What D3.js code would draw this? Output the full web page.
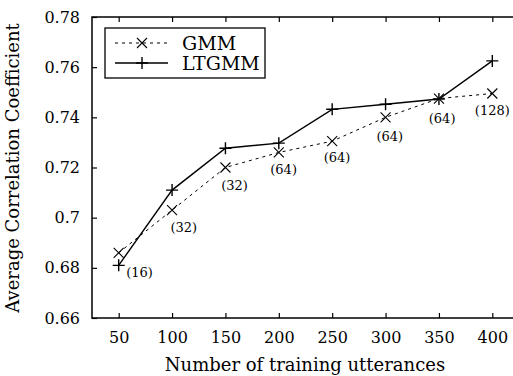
<!DOCTYPE html>
<html>
<head>
<meta charset="utf-8">
<script src="https://cdn.jsdelivr.net/npm/d3@7"></script>
<style>
  body { margin: 0; background: #fff; }
  svg text { font-family: "DejaVu Serif", serif; fill: #000; }
</style>
</head>
<body>
<svg id="chart" width="513" height="376"></svg>
<script>
// data
var utterances = [50, 100, 150, 200, 250, 300, 350, 400];
var gmm = [0.686, 0.703, 0.720, 0.726, 0.7305, 0.740, 0.7475, 0.7495];
var ltgmm = [0.681, 0.711, 0.7277, 0.7297, 0.7432, 0.7452, 0.7473, 0.7625];
var xTicks = [50, 100, 150, 200, 250, 300, 350, 400];
var yTicks = [0.66, 0.68, 0.70, 0.72, 0.74, 0.76, 0.78];

// mixture counts, placed in data coordinates like gnuplot labels
var mixLabels = ["(16)", "(32)", "(32)", "(64)", "(64)", "(64)", "(64)", "(128)"];
var mixLabelX = [69.5, 111, 158.5, 204.5, 254.5, 304, 353, 400];
var mixLabelY = [0.678, 0.696, 0.7128, 0.7192, 0.724, 0.7325, 0.7397, 0.7427];

// frame of the plot (right side runs off the image)
var margin = { top: 17, left: 92 };
var width = 427;
var height = 301;

var svg = d3.select("#chart");

var x = d3.scaleLinear().domain([25, 425]).range([margin.left, margin.left + width]);
var y = d3.scaleLinear().domain([0.66, 0.78]).range([margin.top + height, margin.top]);

// frame
svg.append("rect")
    .attr("x", margin.left)
    .attr("y", margin.top)
    .attr("width", width)
    .attr("height", height)
    .attr("fill", "none")
    .attr("stroke", "#000")
    .attr("stroke-width", 1.5);

// axes with inward ticks
var xAxis = svg.append("g")
    .attr("transform", "translate(0," + (margin.top + height) + ")")
    .call(d3.axisBottom(x).tickValues(xTicks).tickSizeInner(-5).tickSizeOuter(0).tickPadding(14).tickFormat(d3.format("d")));
var xAxisTop = svg.append("g")
    .attr("transform", "translate(0," + margin.top + ")")
    .call(d3.axisTop(x).tickValues(xTicks).tickSizeInner(-5).tickSizeOuter(0).tickFormat(""));
var yAxis = svg.append("g")
    .attr("transform", "translate(" + margin.left + ",0)")
    .call(d3.axisLeft(y).tickValues(yTicks).tickSizeInner(-5).tickSizeOuter(0).tickPadding(12)
      .tickFormat(function(d) { return d3.format(".2f")(d).replace(/0$/, ""); }));

[xAxis, xAxisTop, yAxis].forEach(function(g) {
  g.select(".domain").remove();
  g.selectAll(".tick line").attr("stroke", "#000").attr("stroke-width", 1.2);
  g.selectAll("text")
      .attr("font-family", "DejaVu Serif")
      .attr("font-size", 16)
      .attr("fill", "#000");
});

// axis titles
svg.append("text")
    .attr("x", 305)
    .attr("y", 371)
    .attr("text-anchor", "middle")
    .attr("font-size", 18)
    .text("Number of training utterances");
svg.append("text")
    .attr("transform", "translate(19,168) rotate(-90)")
    .attr("text-anchor", "middle")
    .attr("font-size", 18)
    .text("Average Correlation Coefficient");

// lines
var line = d3.line()
    .x(function(d, i) { return x(utterances[i]); })
    .y(function(d) { return y(d); });

svg.append("path")
    .datum(gmm)
    .attr("d", line)
    .attr("fill", "none")
    .attr("stroke", "#000")
    .attr("stroke-width", 1)
    .attr("stroke-dasharray", "3,4");
svg.append("path")
    .datum(ltgmm)
    .attr("d", line)
    .attr("fill", "none")
    .attr("stroke", "#000")
    .attr("stroke-width", 1.4);

// markers
function cross(g, cx, cy) {
  var r = 5;
  g.append("path")
      .attr("d", "M" + (cx - r) + "," + (cy - r) + "L" + (cx + r) + "," + (cy + r) +
                 "M" + (cx - r) + "," + (cy + r) + "L" + (cx + r) + "," + (cy - r))
      .attr("stroke", "#000")
      .attr("stroke-width", 1.1)
      .attr("fill", "none");
}
function plus(g, cx, cy) {
  var r = 6;
  g.append("path")
      .attr("d", "M" + (cx - r) + "," + cy + "L" + (cx + r) + "," + cy +
                 "M" + cx + "," + (cy - r) + "L" + cx + "," + (cy + r))
      .attr("stroke", "#000")
      .attr("stroke-width", 1.4)
      .attr("fill", "none");
}

var marks = svg.append("g");
gmm.forEach(function(d, i) { cross(marks, x(utterances[i]), y(d)); });
ltgmm.forEach(function(d, i) { plus(marks, x(utterances[i]), y(d)); });

// mixture labels
svg.append("g").selectAll("text")
    .data(mixLabels)
  .enter().append("text")
    .attr("x", function(d, i) { return x(mixLabelX[i]); })
    .attr("y", function(d, i) { return y(mixLabelY[i]); })
    .attr("text-anchor", "middle")
    .attr("dominant-baseline", "central")
    .attr("font-size", 13)
    .text(function(d) { return d; });

// legend
var legend = svg.append("g");
legend.append("rect")
    .attr("x", 105)
    .attr("y", 28)
    .attr("width", 160)
    .attr("height", 50)
    .attr("fill", "#fff")
    .attr("stroke", "#000")
    .attr("stroke-width", 1.3);
legend.append("line")
    .attr("x1", 115).attr("x2", 168).attr("y1", 43).attr("y2", 43)
    .attr("stroke", "#000").attr("stroke-width", 1).attr("stroke-dasharray", "3,4");
cross(legend, 142, 43);
legend.append("line")
    .attr("x1", 115).attr("x2", 168).attr("y1", 63).attr("y2", 63)
    .attr("stroke", "#000").attr("stroke-width", 1.4);
plus(legend, 142, 63);
legend.selectAll("text.lab")
    .data(["GMM", "LTGMM"])
  .enter().append("text")
    .attr("class", "lab")
    .attr("x", 182)
    .attr("y", function(d, i) { return 43 + i * 20; })
    .attr("dominant-baseline", "central")
    .attr("font-size", 19)
    .text(function(d) { return d; });
</script>
</body>
</html>
